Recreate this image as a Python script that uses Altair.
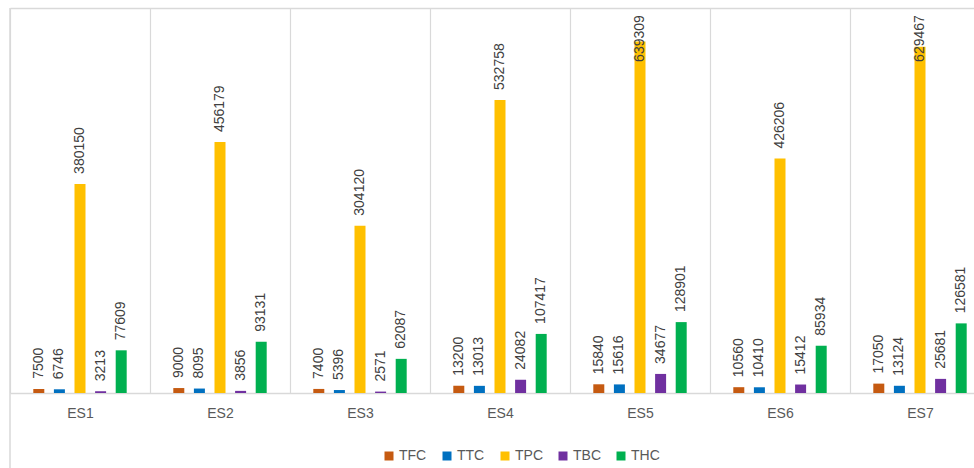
import altair as alt
import pandas as pd

groups = ["ES1", "ES2", "ES3", "ES4", "ES5", "ES6", "ES7"]
series = ["TFC", "TTC", "TPC", "TBC", "THC"]
tfc = [7500, 9000, 7400, 13200, 15840, 10560, 17050]
ttc = [6746, 8095, 5396, 13013, 15616, 10410, 13124]
tpc = [380150, 456179, 304120, 532758, 639309, 426206, 629467]
tbc = [3213, 3856, 2571, 24082, 34677, 15412, 25681]
thc = [77609, 93131, 62087, 107417, 128901, 85934, 126581]
colors = ["#C55A11", "#0070C0", "#FFC000", "#7030A0", "#00B050"]

rows = []
for s, vals in zip(series, [tfc, ttc, tpc, tbc, thc]):
    for g, v in zip(groups, vals):
        rows.append({"group": g, "series": s, "value": v})
df = pd.DataFrame(rows)

FONT = "Liberation Sans"
GRID = "#D9D9D9"

base = alt.Chart(df).encode(
    x=alt.X(
        "group:N",
        sort=groups,
        scale=alt.Scale(range=[0, 980], paddingInner=0, paddingOuter=0),
        axis=alt.Axis(
            title=None, labelAngle=0, grid=True, gridColor=GRID, gridWidth=1.2,
            tickBand="extent", ticks=False, domainColor=GRID, domainWidth=1.5,
            labelFont=FONT, labelFontSize=14, labelColor="#595959", labelPadding=13,
        ),
    ),
    xOffset=alt.XOffset(
        "series:N", sort=series,
        scale=alt.Scale(range=[23.3, 116.7], paddingInner=0.466, paddingOuter=0),
    ),
)

bars = base.mark_bar().encode(
    y=alt.Y(
        "value:Q",
        scale=alt.Scale(domain=[0, 700000], nice=False),
        axis=alt.Axis(title=None, labels=False, ticks=False, domain=False,
                      grid=True, values=[700000], gridColor=GRID, gridWidth=1.5),
    ),
    color=alt.Color(
        "series:N", sort=series,
        scale=alt.Scale(domain=series, range=colors),
        legend=alt.Legend(
            title=None, orient="none", legendX=372, legendY=441,
            direction="horizontal", symbolType="square", symbolSize=81,
            symbolStrokeWidth=0, labelFont=FONT, labelFontSize=14,
            labelColor="#595959", columnPadding=13, labelOffset=3, padding=0,
        ),
    ),
)

labels = base.transform_calculate(
    labelY="min(datum.value + 18200, 602000)"
).mark_text(
    angle=270, align="left", baseline="middle", fontSize=14,
    color="#404040", font=FONT,
).encode(
    y=alt.Y("labelY:Q"),
    text=alt.Text("value:Q", format="d"),
)

border = alt.Chart(pd.DataFrame({"k": [0]})).mark_rule(
    color=GRID, strokeWidth=1.5
).encode(x=alt.value(0), y=alt.value(0), y2=alt.value(470))

chart = alt.layer(bars, labels, border).properties(
    width=964, height=385,
    autosize=alt.AutoSizeParams(type="none"),
    padding={"left": 10, "top": 8, "right": 0, "bottom": 75},
).configure_view(stroke=None)

chart.save("out.html", embed_options={"renderer": "svg", "actions": False})
